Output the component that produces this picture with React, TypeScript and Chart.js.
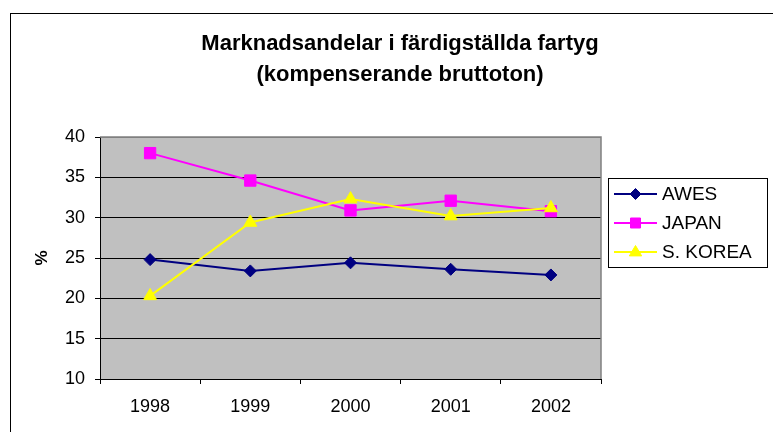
import React, { useEffect, useRef } from "react";
import { Chart, registerables } from "chart.js";

Chart.register(...registerables);

const years = ["1998", "1999", "2000", "2001", "2002"];
const awes = [24.8, 23.4, 24.4, 23.6, 22.9];
const japan = [38.0, 34.6, 30.9, 32.1, 30.8];
const korea = [20.3, 29.4, 32.3, 30.2, 31.2];
const seriesNames = ["AWES", "JAPAN", "S. KOREA"];
const titleLines = ["Marknadsandelar i färdigställda fartyg", "(kompenserande bruttoton)"];
const yAxisTitle = "%";
const yMin = 10;
const yMax = 40;
const yStep = 5;

const FONT = "'Liberation Sans', Arial, sans-serif";
const colors = ["#000080", "#FF00FF", "#FFFF00"];
const shapes = ["rectRot", "rect", "triangle"];

function drawMarker(ctx: CanvasRenderingContext2D, shape: string, x: number, y: number, color: string) {
  ctx.save();
  ctx.fillStyle = color;
  ctx.strokeStyle = color;
  ctx.lineWidth = 1;
  ctx.beginPath();
  if (shape === "rectRot") {
    const r = 5.5;
    ctx.moveTo(x, y - r);
    ctx.lineTo(x + r, y);
    ctx.lineTo(x, y + r);
    ctx.lineTo(x - r, y);
    ctx.closePath();
  } else if (shape === "rect") {
    const h = 5;
    ctx.rect(x - h, y - h, 2 * h, 2 * h);
  } else {
    const r = 6.5;
    ctx.moveTo(x, y - r);
    ctx.lineTo(x + r * 0.95, y + r * 0.6);
    ctx.lineTo(x - r * 0.95, y + r * 0.6);
    ctx.closePath();
  }
  ctx.fill();
  ctx.stroke();
  ctx.restore();
}

const decor = {
  id: "decor",
  beforeDraw(chart: any) {
    const { ctx, chartArea: a } = chart;
    ctx.save();
    ctx.fillStyle = "#ffffff";
    ctx.fillRect(0, 0, chart.width, chart.height);
    ctx.strokeStyle = "#000000";
    ctx.lineWidth = 1;
    ctx.strokeRect(10.5, 13.5, chart.width + 40, chart.height + 40);
    ctx.fillStyle = "#C0C0C0";
    ctx.fillRect(a.left, a.top, a.right - a.left, a.bottom - a.top);
    ctx.restore();
  },
  beforeDatasetsDraw(chart: any) {
    const { ctx, chartArea: a } = chart;
    ctx.save();
    ctx.strokeStyle = "#808080";
    ctx.lineWidth = 1.5;
    ctx.beginPath();
    ctx.moveTo(a.left, a.top);
    ctx.lineTo(a.right, a.top);
    ctx.lineTo(a.right, a.bottom);
    ctx.stroke();
    ctx.restore();
  },
  afterDraw(chart: any) {
    const { ctx } = chart;
    ctx.save();
    // title
    ctx.fillStyle = "#000";
    ctx.font = `bold 22px ${FONT}`;
    ctx.textAlign = "center";
    ctx.textBaseline = "alphabetic";
    ctx.fillText(titleLines[0], 400, 50);
    ctx.fillText(titleLines[1], 400, 81);
    // legend
    ctx.fillStyle = "#fff";
    ctx.fillRect(608.5, 178.5, 159, 89);
    ctx.strokeStyle = "#000";
    ctx.lineWidth = 1;
    ctx.strokeRect(608.5, 178.5, 159, 89);
    const ys = [194, 223, 252];
    chart.data.datasets.forEach((ds: any, i: number) => {
      const y = ys[i];
      ctx.strokeStyle = colors[i];
      ctx.lineWidth = 2;
      ctx.beginPath();
      ctx.moveTo(614, y);
      ctx.lineTo(657, y);
      ctx.stroke();
      drawMarker(ctx, shapes[i], 635.5, y, colors[i]);
      ctx.fillStyle = "#000";
      ctx.font = `19px ${FONT}`;
      ctx.textAlign = "left";
      ctx.textBaseline = "middle";
      ctx.fillText(ds.label, 662, y + 1);
    });
    ctx.restore();
  },
};

export default function App() {
  const ref = useRef<HTMLCanvasElement | null>(null);
  useEffect(() => {
    if (!ref.current) return;
    const seriesData = [awes, japan, korea];
    const orders = [2, 1, 0];
    const radii = [6, 8, 7.5];
    const chart = new Chart(ref.current, {
      type: "line",
      data: {
        labels: years,
        datasets: seriesData.map((d, i) => ({
          label: seriesNames[i],
          data: d,
          borderColor: colors[i],
          backgroundColor: colors[i],
          borderWidth: 2,
          pointStyle: shapes[i] as any,
          pointRadius: radii[i],
          pointBorderWidth: 1,
          pointBackgroundColor: colors[i],
          pointBorderColor: colors[i],
          tension: 0,
          fill: false,
          order: orders[i],
        })),
      },
      options: {
        responsive: false,
        animation: false,
        devicePixelRatio: 1,
        layout: { padding: { top: 137, right: 172, left: 0, bottom: 0 } },
        plugins: {
          legend: { display: false },
          title: { display: false },
          tooltip: { enabled: false },
        },
        scales: {
          x: {
            offset: true,
            grid: {
              offset: true,
              drawOnChartArea: false,
              drawTicks: true,
              tickLength: 5,
              color: "#000",
              tickColor: "#000",
            },
            border: { color: "#000", width: 1 },
            ticks: {
              color: "#000",
              font: { family: FONT, size: 18 },
              padding: 12,
            },
            afterFit: (s: any) => {
              s.height = 53;
            },
          },
          y: {
            min: yMin,
            max: yMax,
            ticks: {
              stepSize: yStep,
              color: "#000",
              font: { family: FONT, size: 18 },
              padding: 10,
            },
            grid: {
              color: (c: any) => (c.tick && c.tick.value === yMax ? "#808080" : "#000"),
              tickColor: "#000",
              tickLength: 5,
              lineWidth: 1,
            },
            border: { color: "#000", width: 1 },
            title: {
              display: true,
              text: yAxisTitle,
              color: "#000",
              font: { family: FONT, size: 17, weight: "bold" },
              padding: { top: 32, bottom: 0 },
            },
            afterFit: (s: any) => {
              s.width = 100;
            },
          },
        },
      },
      plugins: [decor],
    });
    return () => chart.destroy();
  }, []);
  return (
    <div style={{ position: "fixed", left: 0, top: 0, width: 773, height: 432 }}>
      <canvas ref={ref} width={773} height={432} style={{ display: "block" }} />
    </div>
  );
}
